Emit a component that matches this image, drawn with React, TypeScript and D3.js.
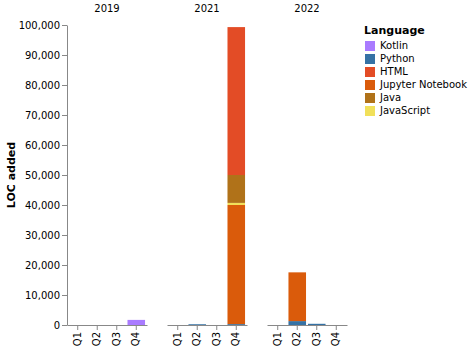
import React, { useRef, useEffect } from "react";
import * as d3 from "d3";

const years = ["2019", "2021", "2022"];
const quarters = ["Q1", "Q2", "Q3", "Q4"];

// legend order
const languages = ["Kotlin", "Python", "HTML", "Jupyter Notebook", "Java", "JavaScript"];
const langColors = ["#a97bff", "#3572a5", "#e34c26", "#da5b0b", "#b07219", "#f1e05a"];
// bottom-up stacking order
const stackOrder = ["Python", "Jupyter Notebook", "JavaScript", "Java", "HTML", "Kotlin"];

// LOC added per year (rows) and quarter (cols)
const kotlin = [[0, 0, 0, 1700], [0, 0, 0, 0], [0, 0, 0, 0]];
const python = [[0, 0, 0, 0], [0, 250, 0, 300], [0, 1300, 400, 0]];
const html = [[0, 0, 0, 0], [0, 0, 0, 49300], [0, 0, 0, 0]];
const jupyter = [[0, 0, 0, 0], [0, 0, 0, 39700], [0, 16250, 0, 0]];
const java = [[0, 0, 0, 0], [0, 0, 0, 9300], [0, 0, 0, 0]];
const javascript = [[0, 0, 0, 0], [0, 0, 0, 700], [0, 0, 0, 0]];

const yTicks = [0, 10000, 20000, 30000, 40000, 50000, 60000, 70000, 80000, 90000, 100000];

const seriesByLang: Record<string, number[][]> = {
  Kotlin: kotlin,
  Python: python,
  HTML: html,
  "Jupyter Notebook": jupyter,
  Java: java,
  JavaScript: javascript,
};

const FONT = "DejaVu Sans, sans-serif";

const App = () => {
  const svgRef = useRef<SVGSVGElement>(null);
  const width = 470;
  const height = 351;

  useEffect(() => {
    const svg = d3.select(svgRef.current);
    svg.selectAll("*").remove();

    const left = 67;
    const top = 25;
    const panelW = 80;
    const panelH = 300;
    const gap = 20;

    const color = d3.scaleOrdinal<string, string>().domain(languages).range(langColors);
    const x = d3.scaleBand().domain(quarters).range([0, panelW]).padding(0.1);
    const y = d3.scaleLinear().domain([0, 100000]).range([panelH, 0]);

    years.forEach((year, yi) => {
      const g = svg
        .append("g")
        .attr("transform", `translate(${left + yi * (panelW + gap)},${top})`);

      // header
      g.append("text")
        .attr("x", panelW / 2)
        .attr("y", -13)
        .attr("text-anchor", "middle")
        .attr("font-family", FONT)
        .attr("font-size", 10)
        .attr("fill", "#000")
        .text(year);

      const rows = quarters.map((q, qi) => {
        const row: any = { q };
        stackOrder.forEach((l) => (row[l] = seriesByLang[l][yi][qi]));
        return row;
      });
      const stacked = d3.stack().keys(stackOrder)(rows);

      stacked.forEach((layer) => {
        g.append("g")
          .attr("fill", color(layer.key))
          .selectAll("rect")
          .data(layer.filter((d) => d[1] - d[0] > 0))
          .enter()
          .append("rect")
          .attr("x", (d: any) => x(d.data.q)!)
          .attr("y", (d) => y(d[1]))
          .attr("width", x.bandwidth())
          .attr("height", (d) => y(d[0]) - y(d[1]));
      });

      // x axis
      const xAxis = g
        .append("g")
        .attr("transform", `translate(0,${panelH})`)
        .call(d3.axisBottom(x).tickSize(5).tickSizeOuter(0));
      xAxis.select(".domain").attr("stroke", "#888");
      xAxis.selectAll(".tick line").attr("stroke", "#888");
      xAxis
        .selectAll(".tick text")
        .attr("font-family", FONT)
        .attr("font-size", 10)
        .attr("fill", "#000")
        .attr("transform", "rotate(-90)")
        .attr("text-anchor", "end")
        .attr("dominant-baseline", "middle")
        .attr("x", -7)
        .attr("y", 0)
        .attr("dy", null);

      if (yi === 0) {
        const yAxis = g
          .append("g")
          .call(
            d3
              .axisLeft(y)
              .tickValues(yTicks)
              .tickSize(5)
              .tickSizeOuter(0)
              .tickFormat(d3.format(","))
          );
        yAxis.select(".domain").attr("stroke", "#888");
        yAxis.selectAll(".tick line").attr("stroke", "#888");
        yAxis
          .selectAll(".tick text")
          .attr("font-family", FONT)
          .attr("font-size", 10)
          .attr("fill", "#000")
          .attr("x", -7);

        g.append("text")
          .attr("transform", `translate(${-52},${panelH / 2}) rotate(-90)`)
          .attr("text-anchor", "middle")
          .attr("font-family", FONT)
          .attr("font-size", 11)
          .attr("font-weight", "bold")
          .attr("fill", "#000")
          .text("LOC added");
      }
    });

    // legend
    const lg = svg.append("g").attr("transform", "translate(364,34)");
    lg.append("text")
      .attr("x", 0)
      .attr("y", 0)
      .attr("font-family", FONT)
      .attr("font-size", 11)
      .attr("font-weight", "bold")
      .attr("fill", "#000")
      .text("Language");
    languages.forEach((l, i) => {
      const row = lg.append("g").attr("transform", `translate(0,${7 + i * 13})`);
      row.append("rect").attr("x", 1).attr("y", 0).attr("width", 10).attr("height", 10).attr("fill", color(l));
      row
        .append("text")
        .attr("x", 16)
        .attr("y", 5)
        .attr("dominant-baseline", "middle")
        .attr("font-family", FONT)
        .attr("font-size", 10)
        .attr("fill", "#000")
        .text(l);
    });
  }, []);

  return (
    <svg
      ref={svgRef}
      width={width}
      height={height}
      style={{ position: "absolute", left: 0, top: 0, background: "#fff" }}
    ></svg>
  );
};

export default App;
